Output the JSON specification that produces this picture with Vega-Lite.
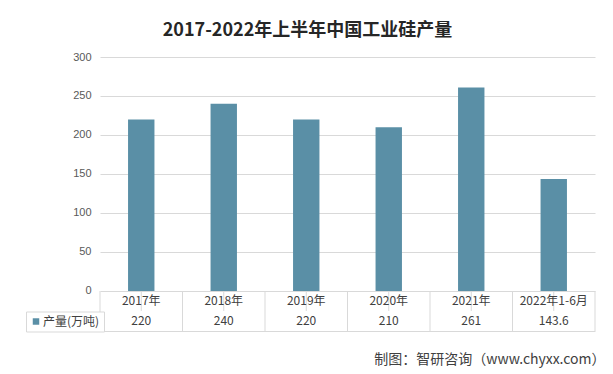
{
  "$schema": "https://vega.github.io/schema/vega-lite/v6.json",
  "autosize": "none",
  "width": 495,
  "height": 274,
  "padding": {"left": 100, "top": 57, "right": 18, "bottom": 43},
  "background": "white",
  "title": {
    "text": "2017-2022年上半年中国工业硅产量",
    "font": "Noto Sans CJK SC",
    "fontSize": 18,
    "fontWeight": "bold",
    "color": "#262626",
    "anchor": "middle",
    "dx": -40,
    "offset": 11
  },
  "config": {
    "view": {"stroke": null},
    "font": "Noto Sans CJK SC"
  },
  "data": {
    "values": [
      {"year": "2017年", "value": 220},
      {"year": "2018年", "value": 240},
      {"year": "2019年", "value": 220},
      {"year": "2020年", "value": 210},
      {"year": "2021年", "value": 261},
      {"year": "2022年1-6月", "value": 143.6}
    ]
  },
  "encoding": {
    "x": {
      "field": "year",
      "type": "nominal",
      "sort": null,
      "scale": {"paddingInner": 0, "paddingOuter": 0},
      "axis": {
        "labels": false,
        "ticks": false,
        "domain": true,
        "domainColor": "#d9d9d9",
        "title": "制图：智研咨询（www.chyxx.com）",
        "titleFont": "Noto Sans CJK SC",
        "titleFontSize": 14,
        "titleFontWeight": "normal",
        "titleColor": "#404040",
        "titleAnchor": "end",
        "titleAlign": "right",
        "titleBaseline": "middle",
        "titleX": 505,
        "titleY": 28
      }
    }
  },
  "layer": [
    {
      "mark": {"type": "bar", "width": {"band": 0.32}},
      "encoding": {
        "y": {
          "field": "value",
          "type": "quantitative",
          "scale": {"domain": [-51.3, 300], "nice": false, "zero": false},
          "axis": {
            "values": [0, 50, 100, 150, 200, 250, 300],
            "title": null,
            "domain": false,
            "ticks": false,
            "grid": true,
            "gridColor": "#d9d9d9",
            "labelColor": "#595959",
            "labelFont": "Liberation Sans",
            "labelFontSize": 11,
            "labelPadding": 9
          }
        },
        "y2": {"datum": 0},
        "color": {
          "datum": "产量(万吨)",
          "type": "nominal",
          "scale": {"range": ["#5a8fa6"]},
          "legend": {
            "title": null,
            "orient": "none",
            "legendX": -74,
            "legendY": 254.5,
            "padding": 4,
            "strokeColor": "#d9d9d9",
            "fillColor": "white",
            "symbolType": "square",
            "symbolSize": 42,
            "symbolStrokeWidth": 0,
            "labelFont": "Noto Sans CJK SC",
            "labelFontSize": 12,
            "labelColor": "#404040",
            "labelOffset": 1
          }
        }
      }
    },
    {
      "mark": {"type": "rule", "color": "#d9d9d9", "strokeWidth": 1},
      "encoding": {"y": {"datum": -25.6}}
    },
    {
      "mark": {"type": "rule", "color": "#d9d9d9", "strokeWidth": 1},
      "encoding": {
        "x": {"field": "year", "type": "nominal", "sort": null, "bandPosition": 0},
        "y": {"datum": 0},
        "y2": {"datum": -51.3}
      }
    },
    {
      "transform": [{"filter": "datum.year == '2022年1-6月'"}],
      "mark": {"type": "rule", "color": "#d9d9d9", "strokeWidth": 1},
      "encoding": {
        "x": {"field": "year", "type": "nominal", "sort": null, "bandPosition": 1},
        "y": {"datum": 0},
        "y2": {"datum": -51.3}
      }
    },
    {
      "mark": {"type": "text", "font": "Noto Sans CJK SC", "fontSize": 12, "color": "#404040", "baseline": "middle"},
      "encoding": {
        "text": {"field": "year", "type": "nominal"},
        "y": {"datum": -12.8}
      }
    },
    {
      "mark": {"type": "text", "font": "Noto Sans CJK SC", "fontSize": 12, "color": "#404040", "baseline": "middle"},
      "encoding": {
        "text": {"field": "value", "type": "quantitative", "format": "~g"},
        "y": {"datum": -38.5}
      }
    }
  ]
}
